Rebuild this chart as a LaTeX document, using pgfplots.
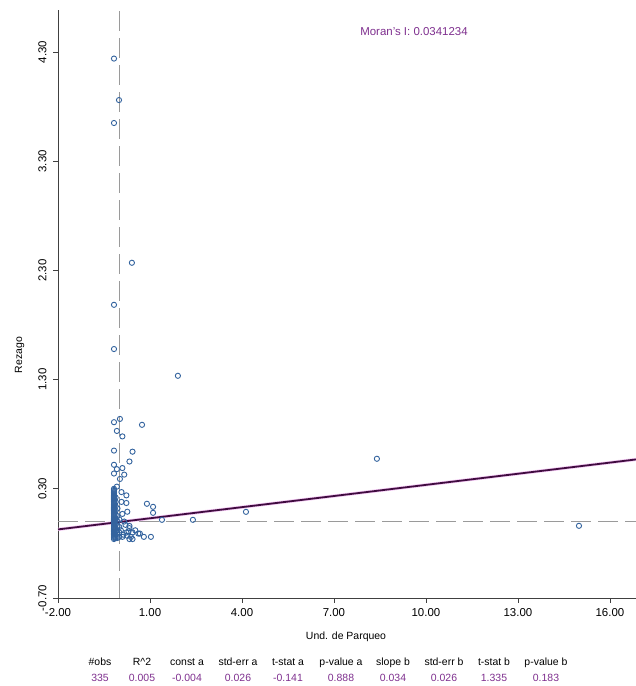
\documentclass[border=0pt]{standalone}
\usepackage{pgfplots}
\pgfplotsset{compat=1.18}
\usepackage{fontspec}
\setmainfont{Liberation Sans}
\definecolor{ptblue}{HTML}{33639E}
\definecolor{regline}{HTML}{400C40}
\definecolor{halo}{HTML}{F2C6F2}
\definecolor{statpurple}{HTML}{7E2F8E}
\definecolor{dashgrey}{HTML}{9A9A9A}
\begin{document}
\begin{tikzpicture}[x=1bp,y=1bp]
\begin{axis}[
  at={(58bp,88bp)}, anchor=south west,
  scale only axis, width=578bp, height=588bp,
  xmin=-2, xmax=16.85, ymin=-0.70, ymax=4.685,
  axis x line*=bottom, axis y line*=left,
  axis line style={black!75, line width=0.9pt},
  xtick={-2,1,4,7,10,13,16},
  ytick={-0.70,0.30,1.30,2.30,3.30,4.30},
  tick align=outside, major tick length=5bp,
  tick style={black!75, line width=0.8pt},
  xticklabel style={font=\fontsize{11.5}{13}\selectfont, yshift=-2bp},
  yticklabel style={font=\fontsize{11.5}{13}\selectfont, rotate=90, anchor=south, yshift=3bp},
  /pgf/number format/assume math mode=true,
  /pgf/number format/.cd, fixed, fixed zerofill, precision=2, /tikz/.cd,
  clip=false,
]
% dashed mean lines
\addplot[dashgrey, line width=1pt, dash pattern=on 20bp off 7bp] coordinates {(0,-0.70) (0,4.685)};
\addplot[dashgrey, line width=1pt, dash pattern=on 20bp off 7bp] coordinates {(-2,0) (16.85,0)};
% regression line y = -0.004 + 0.034 x
\addplot[halo, line width=3.2pt] coordinates {(-2,-0.072) (16.85,0.5689)};
\addplot[regline, line width=1.8pt] coordinates {(-2,-0.072) (16.85,0.5689)};
% observations
\addplot[only marks, mark=o, mark size=2.6bp, mark options={draw=ptblue, line width=0.9pt, fill=none}] table {
x y
-0.174 4.24
-0.011 3.86
-0.174 3.65
0.41 2.37
-0.174 1.985
-0.174 1.58
1.91 1.335
0.74 0.886
8.40 0.575
14.99 -0.039
4.13 0.089
2.40 0.016
1.39 0.016
0.90 0.163
1.10 0.135
1.10 0.08
0.80 -0.14
1.03 -0.14
0.67 -0.11
-0.174 0.91
0.02 0.94
-0.08 0.83
0.10 0.78
-0.174 0.65
0.43 0.64
0.33 0.55
-0.174 0.52
-0.08 0.48
0.10 0.49
-0.174 0.44
0.16 0.43
0.02 0.39
-0.08 0.32
0.07 0.27
0.23 0.24
0.07 0.18
0.23 0.17
0.26 0.09
0.10 0.07
0.33 -0.04
0.33 -0.06
0.43 -0.10
0.23 -0.10
0.62 -0.11
0.43 -0.16
0.33 -0.16
0.10 -0.14
0.16 0.00
0.20 -0.03
0.05 -0.08
0.13 -0.12
0.26 -0.13
0.38 -0.14
0.30 -0.09
0.52 -0.08
-0.174 0.30
-0.174 0.29
-0.174 0.28
-0.174 0.27
-0.174 0.26
-0.174 0.25
-0.174 0.24
-0.174 0.23
-0.174 0.22
-0.174 0.21
-0.174 0.20
-0.174 0.19
-0.174 0.18
-0.174 0.17
-0.174 0.16
-0.174 0.15
-0.174 0.14
-0.174 0.13
-0.174 0.12
-0.174 0.11
-0.174 0.10
-0.174 0.09
-0.174 0.08
-0.174 0.07
-0.174 0.06
-0.174 0.05
-0.174 0.04
-0.174 0.03
-0.174 0.02
-0.174 0.01
-0.174 0.00
-0.174 -0.01
-0.174 -0.02
-0.174 -0.03
-0.174 -0.04
-0.174 -0.05
-0.174 -0.06
-0.174 -0.07
-0.174 -0.08
-0.174 -0.09
-0.174 -0.10
-0.174 -0.11
-0.174 -0.12
-0.174 -0.13
-0.174 -0.14
-0.174 -0.15
-0.174 -0.16
-0.12 0.22
-0.12 0.18
-0.12 0.14
-0.12 0.10
-0.12 0.06
-0.12 0.03
-0.12 0.00
-0.12 -0.03
-0.12 -0.06
-0.12 -0.09
-0.12 -0.12
-0.12 -0.15
-0.06 0.12
-0.06 0.05
-0.06 0.00
-0.06 -0.04
-0.06 -0.08
-0.06 -0.12
-0.06 -0.15
0.00 0.02
0.00 -0.05
0.00 -0.10
0.00 -0.14
};
\end{axis}
\node[font=\fontsize{10.5}{12}\selectfont, anchor=base] at (346bp,46bp) {Und. de Parqueo};
\node[font=\fontsize{10.5}{12}\selectfont, rotate=90, anchor=base] at (22bp,331bp) {Rezago};
\node[text=statpurple, font=\fontsize{11.5}{13}\selectfont] at (414bp,654bp) {Moran's I: 0.0341234};
\begin{scope}[every node/.style={font=\fontsize{10.5}{12}\selectfont, anchor=base}]
\node at (100bp,21bp) {\#obs};
\node at (142bp,21bp) {R\^{}2};
\node at (187bp,21bp) {const a};
\node at (238bp,21bp) {std-err a};
\node at (288bp,21bp) {t-stat a};
\node at (341bp,21bp) {p-value a};
\node at (393bp,21bp) {slope b};
\node at (444bp,21bp) {std-err b};
\node at (494bp,21bp) {t-stat b};
\node at (546bp,21bp) {p-value b};
\end{scope}
\begin{scope}[every node/.style={font=\fontsize{10.5}{12}\selectfont, anchor=base, text=statpurple}]
\node at (100bp,5bp) {335};
\node at (142bp,5bp) {0.005};
\node at (187bp,5bp) {-0.004};
\node at (238bp,5bp) {0.026};
\node at (288bp,5bp) {-0.141};
\node at (341bp,5bp) {0.888};
\node at (393bp,5bp) {0.034};
\node at (444bp,5bp) {0.026};
\node at (494bp,5bp) {1.335};
\node at (546bp,5bp) {0.183};
\end{scope}
\pgfresetboundingbox
\path[use as bounding box] (0,0) rectangle (636bp,686bp);
\end{tikzpicture}
\end{document}
